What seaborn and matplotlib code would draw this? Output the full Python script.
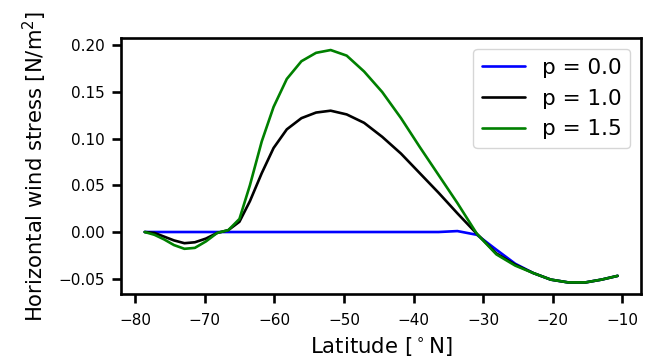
import numpy as np
import pandas as pd
import matplotlib
matplotlib.use("Agg")
import matplotlib.pyplot as plt
import seaborn as sns

lat = [-78.6, -77.2, -75.8, -74.4, -72.9, -71.4, -69.8, -68.2, -66.6, -65.0,
       -63.5, -61.8, -60.1, -58.2, -56.1, -54.0, -51.9, -49.6, -47.1, -44.5,
       -41.8, -39.1, -36.4, -33.7, -30.9, -28.1, -25.4, -22.8, -20.3, -17.8,
       -15.3, -13.0, -10.7]

tau_p00 = [0.000, 0.000, 0.000, 0.000, 0.000, 0.000, 0.000, 0.000, 0.000, 0.000,
           0.000, 0.000, 0.000, 0.000, 0.000, 0.000, 0.000, 0.000, 0.000, 0.000,
           0.000, 0.000, 0.000, 0.001, -0.003, -0.019, -0.034, -0.044, -0.051, -0.054,
           -0.054, -0.051, -0.047]

tau_p10 = [0.000, -0.001, -0.005, -0.009, -0.012, -0.011, -0.007, -0.001, 0.002, 0.011,
           0.033, 0.063, 0.090, 0.110, 0.122, 0.128, 0.130, 0.126, 0.117, 0.102,
           0.084, 0.063, 0.042, 0.020, -0.002, -0.023, -0.035, -0.044, -0.051, -0.054,
           -0.054, -0.051, -0.047]

tau_p15 = [0.000, -0.003, -0.008, -0.014, -0.018, -0.017, -0.010, -0.001, 0.002, 0.014,
           0.050, 0.097, 0.134, 0.164, 0.183, 0.192, 0.195, 0.189, 0.172, 0.150,
           0.122, 0.091, 0.061, 0.031, -0.002, -0.024, -0.036, -0.044, -0.051, -0.054,
           -0.054, -0.051, -0.047]

labels = ["p = 0.0", "p = 1.0", "p = 1.5"]
colors = ["blue", "black", "green"]

frames = []
for lab, vals in zip(labels, [tau_p00, tau_p10, tau_p15]):
    frames.append(pd.DataFrame({"lat": lat, "tau": vals, "p": lab}))
df = pd.concat(frames, ignore_index=True)

sns.set_style("ticks")
plt.rcParams.update({
    "font.family": ["DejaVu Sans"],
    "axes.edgecolor": "black",
    "axes.linewidth": 1.9,
    "xtick.major.width": 1.9,
    "ytick.major.width": 1.9,
    "xtick.major.size": 6.5,
    "ytick.major.size": 6.5,
    "xtick.major.pad": 7.5,
    "ytick.major.pad": 5,
    "xtick.color": "black",
    "ytick.color": "black",
    "axes.labelcolor": "black",
    "text.color": "black",
})

fig = plt.figure(figsize=(6.51, 3.59), dpi=100)
ax = fig.add_axes([0.186, 0.181, 0.799, 0.712])
sns.lineplot(data=df, x="lat", y="tau", hue="p", palette=colors,
             hue_order=labels, linewidth=1.9, ax=ax, estimator=None, sort=False)

ax.set_xlabel(r"Latitude [$^\circ$N]", fontsize=15.3, labelpad=4.5)
ax.set_ylabel(r"Horizontal wind stress [N/m$^2$]", fontsize=15.2, labelpad=7)
ax.set_xticks([-80, -70, -60, -50, -40, -30, -20, -10])
ax.set_yticks([-0.05, 0.0, 0.05, 0.10, 0.15, 0.20])
ax.tick_params(labelsize=11)
leg = ax.legend(loc="upper right", fontsize=15.5, frameon=True)
leg.get_frame().set_edgecolor("0.8")

fig.savefig("out.png", dpi=100)
